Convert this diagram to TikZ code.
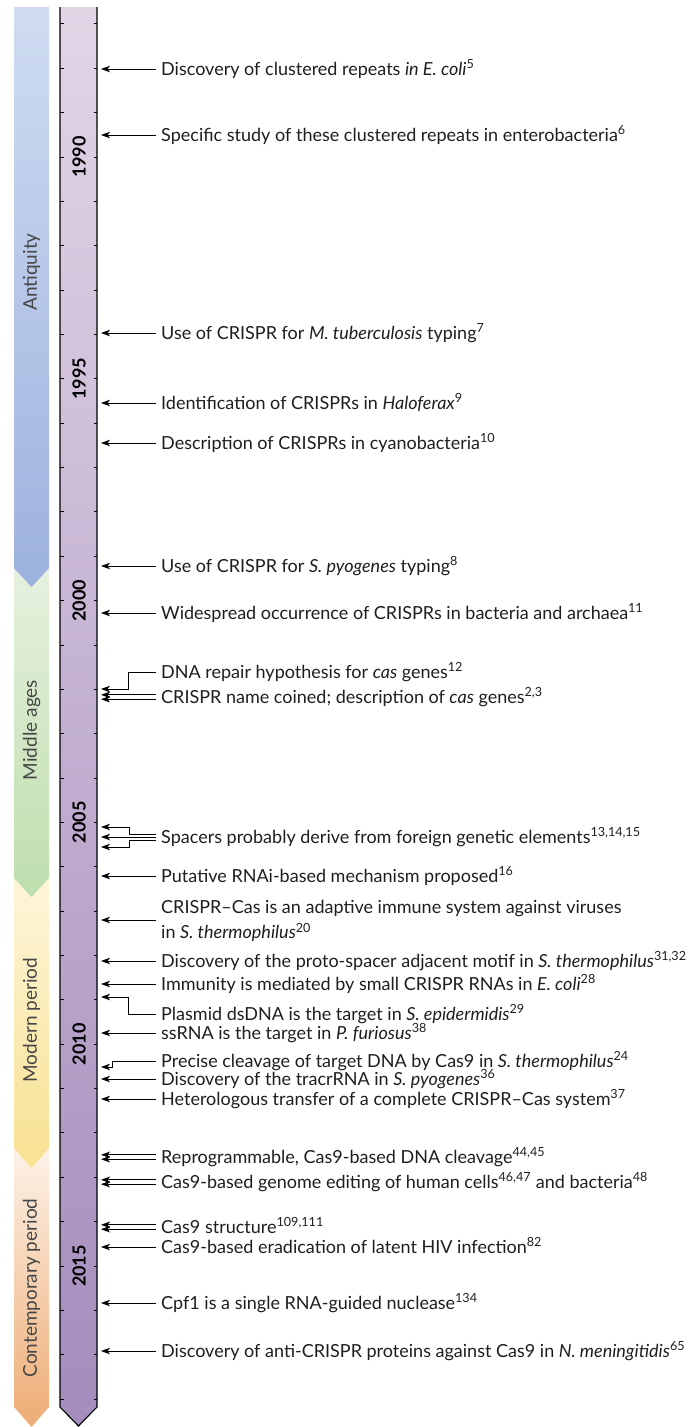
\documentclass[tikz,border=0pt]{standalone}
\usepackage{fontspec}
\setmainfont{Lato}
\usepackage{xcolor}
\usepackage{tikz}
\usetikzlibrary{arrows.meta}
\tikzset{>={Stealth[length=9pt,width=6.5pt,inset=2.5pt]}}

\definecolor{antiqTop}{RGB}{207,220,241}
\definecolor{antiqBot}{RGB}{156,177,222}
\definecolor{midTop}{RGB}{230,241,223}
\definecolor{midBot}{RGB}{190,222,172}
\definecolor{modTop}{RGB}{253,246,218}
\definecolor{modBot}{RGB}{248,225,145}
\definecolor{conTop}{RGB}{253,242,232}
\definecolor{conBot}{RGB}{237,172,116}
\definecolor{barTop}{RGB}{226,213,230}
\definecolor{barBot}{RGB}{164,140,188}
\definecolor{txtgray}{RGB}{30,30,30}
\definecolor{labgray}{RGB}{70,70,70}

\begin{document}
\begin{tikzpicture}[x=1pt,y=-1pt,
event/.style={anchor=west, align=left, inner xsep=5pt, inner ysep=0pt, text=txtgray, text height=12pt, text depth=0pt, font=\fontsize{18}{25}\selectfont},
period/.style={rotate=90, text=labgray, font=\fontsize{19}{22}\selectfont},
yearlabel/.style={rotate=90, inner sep=0pt, font=\bfseries\fontsize{18}{20}\selectfont},
tl/.style={->, line width=1pt},
]
\useasboundingbox (0,0) rectangle (693,1427);

%Periods
\path[top color=conTop, bottom color=conBot] (14,1148) -- (49,1148) -- (49,1407) -- (31.5,1427) -- (14,1407) -- cycle;
\path[top color=modTop, bottom color=modBot] (14,878) -- (49,878) -- (49,1148) -- (31.5,1168) -- (14,1148) -- cycle;
\path[top color=midTop, bottom color=midBot] (14,568) -- (49,568) -- (49,878) -- (31.5,897) -- (14,878) -- cycle;
\path[top color=antiqTop, bottom color=antiqBot] (14,7) -- (49,7) -- (49,568) -- (31.5,587) -- (14,568) -- cycle;
\node[period](Antiquity) at (31.5,272){Antiquity};
\node[period](Middle) at (31.5,730){Middle ages};
\node[period](Modern) at (31.5,1020){Modern period};
\node[period](Contemporary) at (31.5,1288){Contemporary period};

%Timeline bar
\path[top color=barTop, bottom color=barBot] (60,7) -- (97,7) -- (97,1407) -- (78.5,1426) -- (60,1407) -- cycle;
\draw[line width=1.1pt] (60,7) -- (60,1407) -- (78.5,1426) -- (97,1407) -- (97,7);
\foreach \yr in {1987,...,2018}{
  \pgfmathsetmacro\ty{157+(\yr-1990)*44.36}
  \draw[line width=0.9pt] (60,\ty) -- (63.5,\ty) (93.5,\ty) -- (97,\ty);
}
\foreach \yr in {1990,1995,...,2015}
  \node[yearlabel](y\yr) at ({79},{157+(\yr-1990)*44.36}){\yr};
\coordinate (barR) at (101,0);

%Events
\node[event](ecoli) at (156,69){Discovery of clustered repeats \textit{in E. coli}\textsuperscript{5}};
\node[event](entero) at (156,135){Specific study of these clustered repeats in enterobacteria\textsuperscript{6}};
\node[event](mtb) at (156,333){Use of CRISPR for \textit{M. tuberculosis} typing\textsuperscript{7}};
\node[event](halo) at (156,403){Identification of CRISPRs in \textit{Haloferax}\textsuperscript{9}};
\node[event](cyano) at (156,443){Description of CRISPRs in cyanobacteria\textsuperscript{10}};
\node[event](spyo) at (156,566){Use of CRISPR for \textit{S. pyogenes} typing\textsuperscript{8}};
\node[event](widespread) at (156,613){Widespread occurrence of CRISPRs in bacteria and archaea\textsuperscript{11}};
\node[event](repair) at (156,672){DNA repair hypothesis for \textit{cas} genes\textsuperscript{12}};
\node[event](coined) at (156,697){CRISPR name coined; description of \textit{cas} genes\textsuperscript{2,3}};
\node[event](spacers) at (156,837){Spacers probably derive from foreign genetic elements\textsuperscript{13,14,15}};
\node[event](rnai) at (156,876){Putative RNAi-based mechanism proposed\textsuperscript{16}};
\node[event, text height=37pt](adaptive) at (156,920){CRISPR--Cas is an adaptive immune system against viruses\\in \textit{S. thermophilus}\textsuperscript{20}};
\node[event](pam) at (156,961){Discovery of the proto-spacer adjacent motif in \textit{S. thermophilus}\textsuperscript{31,32}};
\node[event](crrna) at (156,984){Immunity is mediated by small CRISPR RNAs in \textit{E. coli}\textsuperscript{28}};
\node[event](plasmid) at (156,1014){Plasmid dsDNA is the target in \textit{S. epidermidis}\textsuperscript{29}};
\node[event](ssrna) at (156,1033){ssRNA is the target in \textit{P. furiosus}\textsuperscript{38}};
\node[event](cleavage) at (156,1061){Precise cleavage of target DNA by Cas9 in \textit{S. thermophilus}\textsuperscript{24}};
\node[event](tracr) at (156,1079){Discovery of the tracrRNA in \textit{S. pyogenes}\textsuperscript{36}};
\node[event](transfer) at (156,1099){Heterologous transfer of a complete CRISPR--Cas system\textsuperscript{37}};
\node[event](reprog) at (156,1157){Reprogrammable, Cas9-based DNA cleavage\textsuperscript{44,45}};
\node[event](editing) at (156,1182){Cas9-based genome editing of human cells\textsuperscript{46,47} and bacteria\textsuperscript{48}};
\node[event](structure) at (156,1227){Cas9 structure\textsuperscript{109,111}};
\node[event](hiv) at (156,1247){Cas9-based eradication of latent HIV infection\textsuperscript{82}};
\node[event](cpf1) at (156,1303){Cpf1 is a single RNA-guided nuclease\textsuperscript{134}};
\node[event](anti) at (156,1351){Discovery of anti-CRISPR proteins against Cas9 in \textit{N. meningitidis}\textsuperscript{65}};

%Arrows
\foreach \ev in {ecoli,entero,mtb,halo,cyano,spyo,widespread,rnai,adaptive,pam,crrna,ssrna,tracr,transfer,hiv,cpf1,anti}
  \draw[tl] (\ev.west) -- (\ev.west -| barR);
\foreach \ev in {coined,reprog,editing,structure}{
  \draw[tl] ([yshift=2.2pt]\ev.west) -- ([yshift=2.2pt]\ev.west -| barR);
  \draw[tl] ([yshift=-2.2pt]\ev.west) -- ([yshift=-2.2pt]\ev.west -| barR);
}
\draw[tl] (repair.west) -- ++(-28,0) |- ([yshift=-17pt]repair.west -| barR);
\draw[tl] ([yshift=3pt]spacers.west) -- ++(-27,0) |- ([yshift=10pt]spacers.west -| barR);
\draw[tl] (spacers.west) -- (spacers.west -| barR);
\draw[tl] ([yshift=-3pt]spacers.west) -- ++(-27,0) |- ([yshift=-10pt]spacers.west -| barR);
\draw[tl] (plasmid.west) -- ++(-28,0) |- ([yshift=17pt]plasmid.west -| barR);
\draw[tl] (cleavage.west) -- ++(-44,0) |- ([yshift=-6pt]cleavage.west -| barR);
\end{tikzpicture}
\end{document}
